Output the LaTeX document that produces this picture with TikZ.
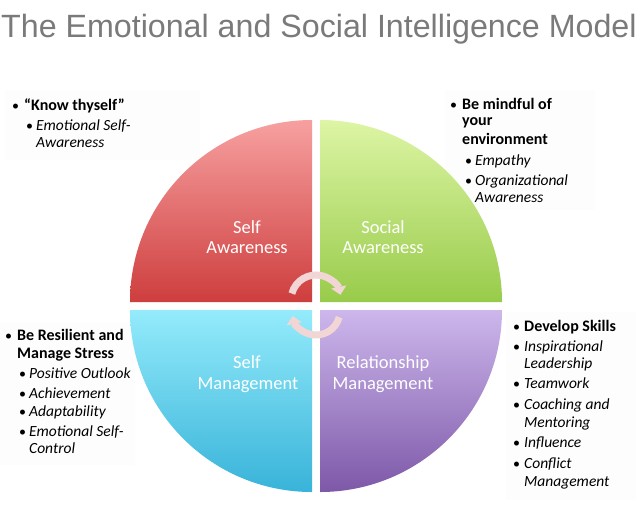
\documentclass[tikz,border=0pt]{standalone}
\usepackage{fontspec}
\setmainfont{Carlito}
\newfontfamily\titlefont{Liberation Sans}
\usetikzlibrary{arrows.meta}
\definecolor{titlegray}{HTML}{7A7A7A}
\definecolor{redtop}{HTML}{F7A0A0}
\definecolor{redbot}{HTML}{CE3E3E}
\definecolor{greentop}{HTML}{DDF5A5}
\definecolor{greenbot}{HTML}{98CB4A}
\definecolor{cyantop}{HTML}{94EBFB}
\definecolor{cyanbot}{HTML}{38B3D9}
\definecolor{purptop}{HTML}{CDB7EC}
\definecolor{purpbot}{HTML}{7D58A8}
\definecolor{arrowpink}{HTML}{F2D5D5}
\definecolor{boxbg}{HTML}{FDFDFD}
\begin{document}
\begin{tikzpicture}[x=1pt,y=1pt,
  quad/.style={draw=none},
  qlabel/.style={anchor=base,inner sep=0pt,text=white,font=\fontsize{18.5}{20}\selectfont},
  bul/.style={anchor=base west,inner sep=0pt,font=\fontsize{14}{18}\selectfont},
  head/.style={anchor=base west,inner sep=0pt,font=\fontsize{16}{18}\selectfont\bfseries},
  sub/.style={anchor=base west,inner sep=0pt,font=\fontsize{15.5}{18}\selectfont\itshape},
  cyc/.style={line width=7pt,draw=arrowpink,-{Triangle[length=8pt,width=15pt]}},
  bg/.style={fill=boxbg,draw=none}]
\useasboundingbox (0,0) rectangle (644,-515);
\fill[white] (0,0) rectangle (644,-515);
% title
\node[anchor=base west,inner sep=0pt,text=titlegray,font=\titlefont\fontsize{32.2}{36}\selectfont] (title) at (1,-37) {The Emotional and Social Intelligence Model};
% faint text backgrounds
\path[bg] (5,-90) rectangle (200,-160);
\path[bg] (445,-90) rectangle (595,-210);
\path[bg] (0,-322) rectangle (135,-465);
\path[bg] (506,-312) rectangle (636,-500);
% quadrants
\shade[quad,top color=redtop,bottom color=redbot] (312,-302) -- (130,-302) arc[start angle=180,end angle=90,radius=182] -- cycle;
\shade[quad,top color=greentop,bottom color=greenbot] (320,-302) -- (320,-120) arc[start angle=90,end angle=0,radius=182] -- cycle;
\shade[quad,top color=cyantop,bottom color=cyanbot] (312,-310) -- (312,-492) arc[start angle=270,end angle=180,radius=182] -- cycle;
\shade[quad,top color=purptop,bottom color=purpbot] (320,-310) -- (502,-310) arc[start angle=0,end angle=-90,radius=182] -- cycle;
% quadrant labels
\node[qlabel] (sa1) at (247,-233) {Self};
\node[qlabel] (sa2) at (247,-253) {Awareness};
\node[qlabel] (so1) at (383,-233) {Social};
\node[qlabel] (so2) at (383,-253) {Awareness};
\node[qlabel] (sm1) at (247,-368) {Self};
\node[qlabel] (sm2) at (248,-389) {Management};
\node[qlabel] (rm1) at (383,-368) {Relationship};
\node[qlabel] (rm2) at (383,-389) {Management};
% cycle arrows
\coordinate (ctop) at (316,-300);
\coordinate (cbot) at (316,-311);
\draw[cyc] ([shift={(165:25)}]ctop) arc[start angle=165,end angle=12,radius=25];
\draw[cyc] ([shift={(-15:24)}]cbot) arc[start angle=-15,end angle=-168,radius=24];
% top-left text
\node[bul] (tlb1) at (12,-110) {•};
\node[head] (tlh1) at (24,-110) {“Know thyself”};
\node[bul] (tlb2) at (26,-130) {•};
\node[sub] (tls1) at (36,-130) {Emotional Self-};
\node[sub] (tls2) at (36,-147) {Awareness};
% top-right text
\node[bul] (trb1) at (450,-109) {•};
\node[head] (trh1) at (462,-109) {Be mindful of};
\node[head] (trh2) at (462,-125) {your};
\node[head] (trh3) at (462,-144) {environment};
\node[bul] (trb2) at (465,-165) {•};
\node[sub] (trs1) at (475,-165) {Empathy};
\node[bul] (trb3) at (465,-185) {•};
\node[sub] (trs2) at (475,-185) {Organizational};
\node[sub] (trs3) at (475,-202) {Awareness};
% bottom-left text
\node[bul] (blb1) at (5,-340) {•};
\node[head] (blh1) at (17,-340) {Be Resilient and};
\node[head] (blh2) at (17,-358) {Manage Stress};
\node[bul] (blb2) at (19,-378) {•};
\node[sub] (bls1) at (29,-378) {Positive Outlook};
\node[bul] (blb3) at (19,-398) {•};
\node[sub] (bls2) at (29,-398) {Achievement};
\node[bul] (blb4) at (19,-416) {•};
\node[sub] (bls3) at (29,-416) {Adaptability};
\node[bul] (blb5) at (19,-436) {•};
\node[sub] (bls4) at (29,-436) {Emotional Self-};
\node[sub] (bls5) at (29,-453) {Control};
% bottom-right text
\node[bul] (brb1) at (513,-331) {•};
\node[head] (brh1) at (524,-331) {Develop Skills};
\node[bul] (brb2) at (513,-351) {•};
\node[sub] (brs1) at (524,-351) {Inspirational};
\node[sub] (brs2) at (524,-368) {Leadership};
\node[bul] (brb3) at (513,-388) {•};
\node[sub] (brs3) at (524,-388) {Teamwork};
\node[bul] (brb4) at (513,-409) {•};
\node[sub] (brs4) at (524,-409) {Coaching and};
\node[sub] (brs5) at (524,-427) {Mentoring};
\node[bul] (brb5) at (513,-447) {•};
\node[sub] (brs6) at (524,-447) {Influence};
\node[bul] (brb6) at (513,-468) {•};
\node[sub] (brs7) at (524,-468) {Conflict};
\node[sub] (brs8) at (524,-486) {Management};
\end{tikzpicture}
\end{document}
